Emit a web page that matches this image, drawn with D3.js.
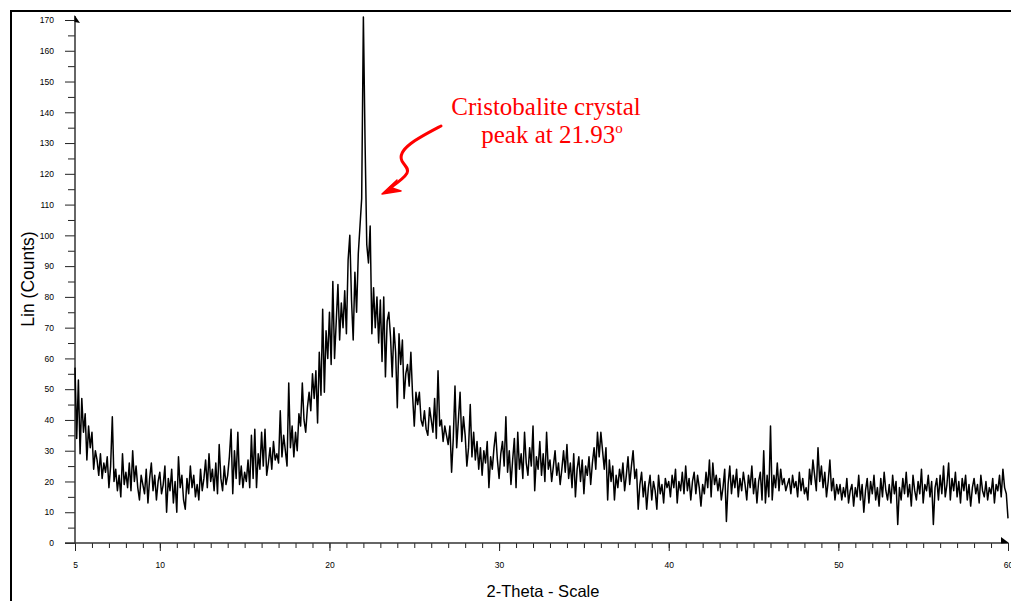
<!DOCTYPE html>
<html>
<head>
<meta charset="utf-8">
<script src="https://cdn.jsdelivr.net/npm/d3@7"></script>
<style>
  body { margin: 0; background: #fff; }
  .tick text { font-family: "Liberation Sans", Arial, sans-serif; font-size: 8.5px; fill: #000; }
</style>
</head>
<body>
<div id="xrd"></div>
<script>
const w = 1011, h = 601;

// 2-theta from 5.0 to 60.0 in 0.1 degree steps, counts
const thetaStart = 5, thetaStep = 0.1;
const counts = [
  57, 34, 53, 29, 47, 36, 42, 27, 38, 31,
  36, 24, 30, 27, 22, 29, 21, 26, 23, 28,
  18, 25, 41, 20, 24, 17, 22, 15, 29, 19,
  23, 18, 26, 17, 30, 20, 25, 18, 14, 22,
  19, 16, 24, 13, 21, 26, 17, 22, 14, 20,
  23, 16, 19, 25, 10, 21, 17, 24, 13, 20,
  10, 28, 18, 22, 14, 11, 21, 16, 25, 18,
  22, 15, 19, 14, 24, 17, 21, 27, 18, 29,
  20, 24, 17, 26, 16, 32, 21, 17, 25, 19,
  22, 28, 37, 16, 30, 21, 36, 19, 25, 18,
  23, 20, 27, 18, 35, 21, 37, 18, 29, 24,
  36, 25, 37, 22, 26, 31, 24, 33, 27, 29,
  26, 43, 28, 35, 30, 25, 52, 31, 38, 28,
  36, 30, 42, 38, 52, 40, 36, 44, 49, 43,
  55, 47, 56, 39, 62, 48, 76, 49, 69, 60,
  75, 58, 85, 60, 72, 84, 66, 78, 70, 82,
  68, 92, 100, 79, 66, 88, 75, 94, 103, 112,
  171, 130, 97, 91, 103, 68, 83, 70, 80, 65,
  79, 59, 80, 54, 72, 75, 67, 54, 70, 62,
  44, 68, 58, 66, 47, 55, 58, 51, 62, 48,
  38, 49, 45, 49, 40, 38, 43, 37, 35, 44,
  40, 36, 47, 34, 56, 38, 40, 33, 38, 35,
  32, 38, 23, 34, 51, 31, 40, 49, 33, 41,
  35, 25, 31, 45, 28, 36, 27, 33, 24, 31,
  22, 30, 26, 33, 18, 28, 24, 31, 36, 27,
  21, 29, 33, 25, 41, 23, 30, 19, 27, 34,
  18, 36, 24, 29, 21, 36, 26, 22, 31, 25,
  38, 17, 28, 24, 33, 22, 29, 20, 36, 24,
  27, 20, 25, 30, 22, 26, 19, 24, 30, 23,
  32, 21, 26, 18, 29, 15, 24, 28, 20, 27,
  16, 25, 22, 28, 19, 26, 31, 24, 36, 28,
  36, 30, 24, 31, 14, 27, 20, 25, 14, 22,
  18, 24, 20, 26, 17, 22, 28, 19, 25, 30,
  21, 24, 11, 19, 23, 15, 20, 11, 18, 22,
  14, 20, 17, 11, 22, 16, 19, 13, 21, 18,
  20, 15, 22, 18, 24, 13, 20, 17, 23, 16,
  25, 17, 21, 14, 20, 23, 16, 22, 18, 12,
  19, 16, 23, 18, 27, 15, 26, 19, 22, 17,
  21, 14, 18, 24, 7, 19, 25, 16, 22, 18,
  24, 15, 21, 17, 23, 19, 14, 22, 18, 25,
  16, 21, 13, 20, 23, 14, 30, 13, 22, 15,
  38, 14, 22, 18, 26, 17, 24, 19, 21, 17,
  19, 21, 16, 22, 18, 20, 15, 23, 17, 21,
  16, 18, 14, 24, 19, 27, 22, 17, 31, 20,
  25, 18, 23, 15, 20, 27, 17, 21, 14, 19,
  16, 19, 14, 18, 15, 21, 13, 17, 19, 12,
  18, 15, 22, 14, 19, 10, 17, 21, 13, 20,
  16, 22, 14, 18, 12, 21, 15, 23, 17, 14,
  19, 13, 22, 16, 20, 6, 18, 14, 21, 16,
  23, 15, 19, 12, 22, 17, 14, 20, 16, 24,
  13, 19, 17, 22, 15, 20, 6, 18, 21, 14,
  22, 16, 25, 15, 19, 26, 14, 21, 17, 23,
  15, 20, 13, 21, 17, 22, 14, 19, 12, 18,
  21, 16, 19, 13, 22, 17, 15, 20, 14, 18,
  16, 21, 13, 19, 17, 22, 15, 24, 18, 16,
  8
];

const xTicks = [5, 10, 20, 30, 40, 50, 60];
const xMinorTicks = d3.range(5, 61, 1);
const yTicks = d3.range(0, 171, 10);
const yMinorTicks = d3.range(5, 170, 10);

const annotationLines = ["Cristobalite crystal", "peak at 21.93"];

const points = counts.map((c, i) => ({ theta: thetaStart + i * thetaStep, count: c }));

const svg = d3.select("#xrd").append("svg")
    .attr("width", w)
    .attr("height", h);

const x = d3.scaleLinear().domain([5, 60]).range([75, 1008]);
const y = d3.scaleLinear().domain([0, 170]).range([543, 20]);

// outer frame (runs off the right and bottom edges)
svg.append("path")
    .attr("d", `M11,${h + 5} L11,11 L${w + 5},11`)
    .attr("fill", "none")
    .attr("stroke", "#000")
    .attr("stroke-width", 2);

// minor ticks
svg.append("g")
    .attr("transform", `translate(75,0)`)
    .call(d3.axisLeft(y).tickValues(yMinorTicks).tickSize(7).tickFormat(""))
    .call(g => g.select(".domain").remove());

svg.append("g")
    .attr("transform", `translate(0,543)`)
    .call(d3.axisBottom(x).tickValues(xMinorTicks).tickSize(5).tickFormat(""))
    .call(g => g.select(".domain").remove());

// major ticks + labels
svg.append("g")
    .attr("transform", `translate(75,0)`)
    .call(d3.axisLeft(y).tickValues(yTicks).tickSize(10).tickPadding(11))
    .call(g => g.select(".domain").remove());

svg.append("g")
    .attr("transform", `translate(0,543)`)
    .call(d3.axisBottom(x).tickValues(xTicks).tickSize(8).tickPadding(11))
    .call(g => g.select(".domain").remove());

svg.selectAll(".tick line").attr("stroke", "#222");

// axis lines with small arrowheads
svg.append("line")
    .attr("x1", 75).attr("x2", 75)
    .attr("y1", 544).attr("y2", 16)
    .attr("stroke", "#333").attr("stroke-width", 1.5);
svg.append("line")
    .attr("x1", 65).attr("x2", 1008)
    .attr("y1", 543).attr("y2", 543)
    .attr("stroke", "#333").attr("stroke-width", 1.5);
svg.append("path")
    .attr("d", "M74.5,15 L80,23 L74.5,22 Z")
    .attr("fill", "#000");
svg.append("path")
    .attr("d", "M1001,537 L1009,543 L1001,543.5 Z")
    .attr("fill", "#000");

// the pattern
const line = d3.line()
    .x(d => x(d.theta))
    .y(d => y(d.count));

svg.append("path")
    .datum(points)
    .attr("d", line)
    .attr("fill", "none")
    .attr("stroke", "#000")
    .attr("stroke-width", 1.5)
    .attr("stroke-linejoin", "round");

// axis titles
svg.append("text")
    .attr("x", 543)
    .attr("y", 597)
    .attr("text-anchor", "middle")
    .attr("font-family", "'Liberation Sans', Arial, sans-serif")
    .attr("font-size", 16.5)
    .text("2-Theta - Scale");

svg.append("text")
    .attr("transform", "translate(34,279) rotate(-90)")
    .attr("text-anchor", "middle")
    .attr("font-family", "'Liberation Sans', Arial, sans-serif")
    .attr("font-size", 17.5)
    .text("Lin (Counts)");

// annotation
svg.append("text")
    .attr("x", 546)
    .attr("y", 115)
    .attr("text-anchor", "middle")
    .attr("font-family", "'Liberation Serif', 'Times New Roman', serif")
    .attr("font-size", 25)
    .attr("fill", "#f00")
    .text(annotationLines[0]);

const t2 = svg.append("text")
    .attr("x", 552)
    .attr("y", 143)
    .attr("text-anchor", "middle")
    .attr("font-family", "'Liberation Serif', 'Times New Roman', serif")
    .attr("font-size", 25)
    .attr("fill", "#f00")
    .text(annotationLines[1]);
t2.append("tspan")
    .attr("font-size", 15)
    .attr("dy", -10)
    .text("o");

svg.append("path")
    .attr("d", "M441,126 C420,137 396,149 402,161 C407,170 416,170 390,188")
    .attr("fill", "none")
    .attr("stroke", "#f00")
    .attr("stroke-width", 3)
    .attr("stroke-linecap", "round");
svg.append("path")
    .attr("d", "M382,194 L397,180 L392,188 L401,191 Z")
    .attr("fill", "#f00")
    .attr("stroke", "#f00")
    .attr("stroke-width", 1.5)
    .attr("stroke-linejoin", "round");
</script>
</body>
</html>
